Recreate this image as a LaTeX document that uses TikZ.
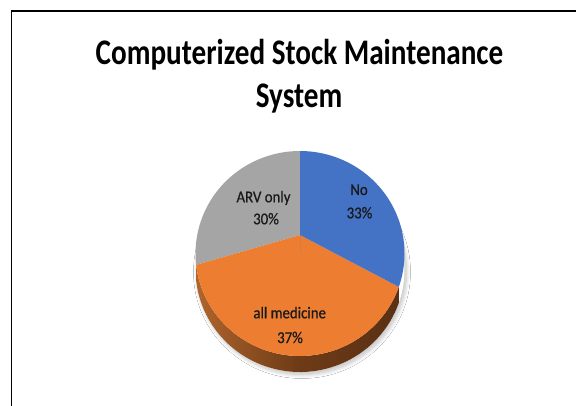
\documentclass[tikz,border=0pt]{standalone}
\usepackage{fontspec}
\setmainfont{Carlito}
\newfontfamily\lblfont{Carlito}[FakeBold=0.6]
\usetikzlibrary{shadows.blur}
\definecolor{pieblue}{HTML}{4472C4}
\definecolor{pieorange}{HTML}{ED7D31}
\definecolor{piegray}{HTML}{A5A5A5}
\definecolor{sidelight}{HTML}{B0652C}
\definecolor{sidemid}{HTML}{6E3B17}
\definecolor{sidedark}{HTML}{5A3014}
\newcommand\sqz[2]{\scalebox{#1}[1]{#2}}
\tikzset{
  titletext/.style={font=\fontsize{36}{40}\selectfont\bfseries, inner sep=0pt, anchor=base},
  labeltext/.style={font=\lblfont\fontsize{16.5}{20}\selectfont, inner sep=0pt, anchor=base, text=black!90}
}
\begin{document}
\begin{tikzpicture}[x=1pt,y=1pt]
\useasboundingbox (0,0) rectangle (576,405);
\fill[white] (0,0) rectangle (576,405);
\begin{scope}
\clip (0,0) rectangle (576,405);
\draw[black, line width=1.5pt] (11.5,-5) -- (11.5,394) -- (590,394);
\end{scope}

% title
\node[titletext] (title1) at (299.5,340.7) {\sqz{0.81}{Computerized Stock Maintenance}};
\node[titletext] (title2) at (299,297.5) {\sqz{0.81}{System}};

% pie geometry
\coordinate (C) at (300,151.5);
\coordinate (A) at (300,170);
\coordinate (B) at (300,135.5);

% soft shadow under the pie (bottom face)
\path[fill=white, blur shadow={shadow xshift=2pt, shadow yshift=-2.5pt, shadow blur steps=10, shadow opacity=25, shadow blur radius=4pt}]
  (B) ellipse[x radius=104.5, y radius=102.5];

% side of the orange slice
\path[left color=sidelight, right color=sidedark, middle color=sidemid]
  (C) ++(186.4:104.5 and 102.5) arc[start angle=186.4, end angle=341, x radius=104.5, y radius=102.5]
  -- ++(0,-16) arc[start angle=341, end angle=186.4, x radius=104.5, y radius=102.5] -- cycle;

% slices
\fill[piegray] (A) -- (C) ++(90:104.5 and 102.5) arc[start angle=90, end angle=186.4, x radius=104.5, y radius=102.5] -- (A) -- cycle;
\fill[pieorange] (A) -- (C) ++(186.4:104.5 and 102.5) arc[start angle=186.4, end angle=341, x radius=104.5, y radius=102.5] -- (A) -- cycle;
\fill[pieblue] (A) -- (C) ++(-19:104.5 and 102.5) arc[start angle=-19, end angle=90, x radius=104.5, y radius=102.5] -- (A) -- cycle;

% labels
\node[labeltext] (noA) at (359,210) {\sqz{0.9}{No}};
\node[labeltext] (noB) at (359.5,186.7) {\sqz{0.9}{33\%}};
\node[labeltext] (arvA) at (263.5,202.7) {\sqz{0.9}{ARV only}};
\node[labeltext] (arvB) at (266,180.7) {\sqz{0.9}{30\%}};
\node[labeltext] (allA) at (289.7,86.7) {\sqz{0.9}{all medicine}};
\node[labeltext] (allB) at (290,62) {\sqz{0.9}{37\%}};
\end{tikzpicture}
\end{document}
